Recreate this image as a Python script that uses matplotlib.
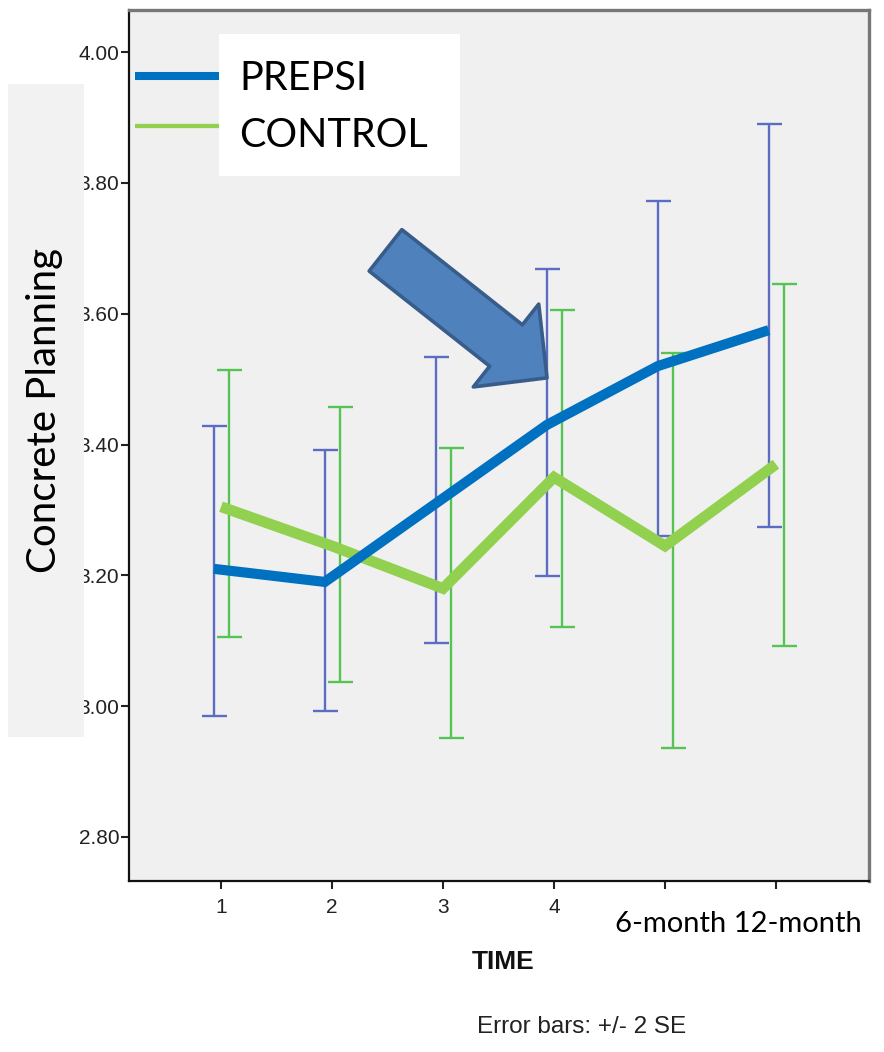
import matplotlib.pyplot as plt
from matplotlib.patches import Rectangle
from matplotlib.lines import Line2D
import numpy as np

W, H = 884, 1052

time_points = [1, 2, 3, 4, 5, 6]
tick_labels = ['1', '2', '3', '4', '', '']
y_ticks = [2.80, 3.00, 3.20, 3.40, 3.60, 3.80, 4.00]

prepsi_mean = [3.21, 3.19, 3.31, 3.43, 3.52, 3.575]
prepsi_low = [2.985, 2.993, 3.097, 3.199, 3.260, 3.274]
prepsi_high = [3.428, 3.392, 3.534, 3.668, 3.772, 3.890]

control_mean = [3.305, 3.245, 3.18, 3.35, 3.245, 3.37]
control_low = [3.106, 3.037, 2.951, 3.121, 2.936, 3.092]
control_high = [3.514, 3.457, 3.395, 3.606, 3.540, 3.646]

BLUE = '#0070c0'
GREEN = '#92d050'
BAR_BLUE = '#5b6cc2'
BAR_GREEN = '#55c455'
SANS = ['Liberation Sans', 'DejaVu Sans']
OFFICE = ['Lato', 'DejaVu Sans']


def fx(x):
    return x / W


def fy(y):
    return 1 - y / H


fig = plt.figure(figsize=(W / 100, H / 100), dpi=100)
ax = fig.add_axes([fx(129), fy(881), (869 - 129) / W, (881 - 10) / H])
ax.set_facecolor('#f0f0f0')

x = np.array(time_points, dtype=float)
pm, plo, phi = map(np.array, (prepsi_mean, prepsi_low, prepsi_high))
cm, clo, chi = map(np.array, (control_mean, control_low, control_high))

# +/- 2 SE bars
ax.errorbar(x - 0.065, pm, yerr=[pm - plo, phi - pm], fmt='none',
            ecolor=BAR_BLUE, elinewidth=1.7, capsize=9, capthick=1.7, zorder=2)
ax.errorbar(x + 0.07, cm, yerr=[cm - clo, chi - cm], fmt='none',
            ecolor=BAR_GREEN, elinewidth=1.7, capsize=9, capthick=1.7, zorder=2)

# highlighted group means
ax.plot(x - 0.065, pm, color=BLUE, lw=7.3, solid_capstyle='butt',
        solid_joinstyle='miter', zorder=4)
ax.plot(x, cm, color=GREEN, lw=7.8, solid_capstyle='butt',
        solid_joinstyle='miter', zorder=3)

ax.set_xlim(0.171, 6.838)
ax.set_ylim(2.7327, 4.0645)
ax.set_xticks(time_points)
ax.set_xticklabels(tick_labels)
ax.set_yticks(y_ticks)
ax.set_yticklabels([f'{v:.2f}' for v in y_ticks])
for lab in ax.get_xticklabels() + ax.get_yticklabels():
    lab.set_family(SANS)
    lab.set_fontsize(15)
    lab.set_color('#222222')
ax.tick_params(axis='both', direction='out', length=6, width=1.5, color='#222222')
ax.tick_params(axis='y', pad=1)
ax.tick_params(axis='x', pad=6)

for side in ('left', 'bottom'):
    ax.spines[side].set_color('#111111')
    ax.spines[side].set_linewidth(1.6)
for side in ('top', 'right'):
    ax.spines[side].set_color('#777777')
    ax.spines[side].set_linewidth(2.4)

# callout arrow pointing at the 4th time point
ax.annotate('', xy=(3.937, 3.502), xytext=(2.482, 3.697),
            arrowprops=dict(arrowstyle='simple,head_length=0.94,head_width=1.9,tail_width=0.95',
                            fc='#4f81bd', ec='#385d8a', lw=2.6,
                            shrinkA=0, shrinkB=0, mutation_scale=40),
            zorder=6)

# y label panel
fig.add_artist(Rectangle((fx(8), fy(737)), (84 - 8) / W, (737 - 84) / H,
                         transform=fig.transFigure, fc='#f2f2f2', ec='none', zorder=5))
fig.text(fx(45), fy(410), 'Concrete Planning', rotation=90, ha='center', va='center',
         family=OFFICE, fontsize=29, color='black', zorder=6)

# legend
fig.add_artist(Line2D([fx(135), fx(235)], [fy(76), fy(76)], transform=fig.transFigure,
                      color=BLUE, lw=5.8, solid_capstyle='butt', zorder=4))
fig.add_artist(Line2D([fx(135), fx(235)], [fy(126), fy(126)], transform=fig.transFigure,
                      color=GREEN, lw=3.1, solid_capstyle='butt', zorder=4))
fig.add_artist(Rectangle((fx(219), fy(176)), (460 - 219) / W, (176 - 34) / H,
                         transform=fig.transFigure, fc='white', ec='none', zorder=5))
fig.text(fx(239), fy(90), 'PREPSI', ha='left', va='baseline',
         family=OFFICE, fontsize=28.5, zorder=6)
fig.text(fx(239), fy(147), 'CONTROL', ha='left', va='baseline',
         family=OFFICE, fontsize=28.5, zorder=6)

fig.text(fx(615), fy(932), '6-month 12-month', ha='left', va='baseline',
         family=OFFICE, fontsize=21, zorder=6)
fig.text(fx(503), fy(962), 'TIME', ha='center', va='center',
         family=SANS, fontsize=19, fontweight='bold', color='#111111')
fig.text(fx(582), fy(1027), 'Error bars: +/- 2 SE', ha='center', va='center',
         family=SANS, fontsize=17.5, color='#222222')

fig.savefig('out.png', dpi=100, facecolor='white')
